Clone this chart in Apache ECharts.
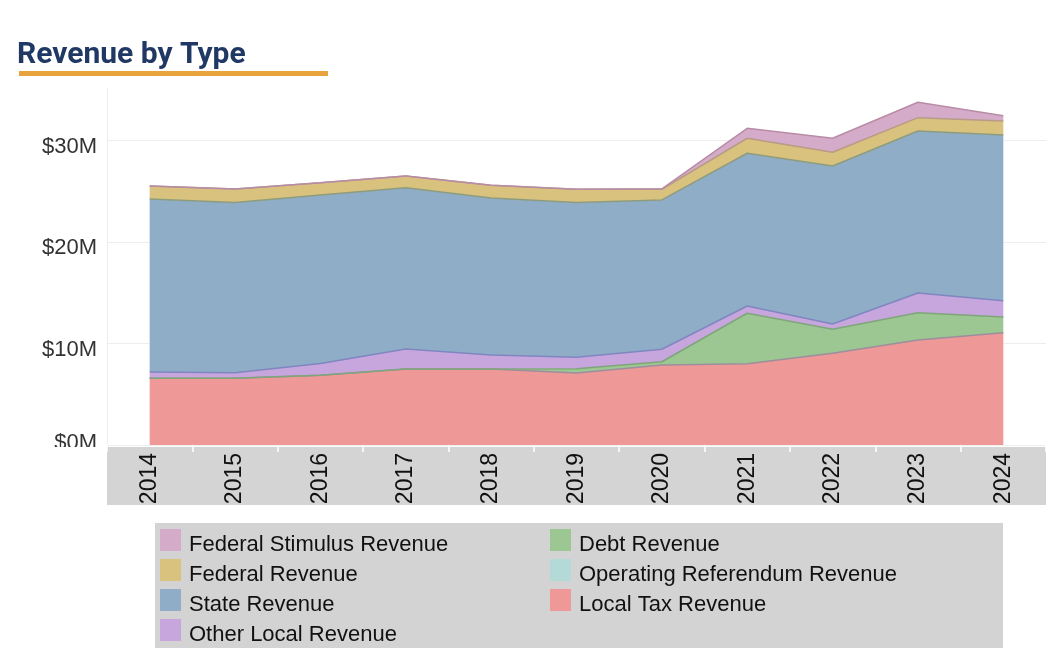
<!DOCTYPE html>
<html>
<head>
<meta charset="utf-8">
<script src="https://cdn.jsdelivr.net/npm/echarts@6/dist/echarts.min.js"></script>
<style>
html,body{margin:0;padding:0;background:#fff;}
#chart{width:1054px;height:666px;}
</style>
</head>
<body>
<div id="chart"></div>
<script>
// Data ($ millions)
const years = ['2014','2015','2016','2017','2018','2019','2020','2021','2022','2023','2024'];
const localTax = [6.57, 6.57, 6.87, 7.49, 7.49, 7.09, 7.88, 8.00, 9.03, 10.34, 11.06];
const operatingReferendum = [0, 0, 0, 0, 0, 0, 0, 0, 0, 0, 0];
const debt = [0, 0, 0, 0, 0, 0.41, 0.32, 4.98, 2.37, 2.69, 1.55];
const otherLocal = [0.62, 0.55, 1.16, 1.97, 1.38, 1.14, 1.23, 0.71, 0.52, 1.95, 1.61];
const state = [17.05, 16.78, 16.60, 15.89, 15.47, 15.26, 14.71, 15.05, 15.57, 15.96, 16.32];
const federal = [1.28, 1.32, 1.21, 1.15, 1.25, 1.29, 1.05, 1.48, 1.35, 1.31, 1.38];
const federalStimulus = [0, 0, 0, 0, 0, 0, 0.05, 0.98, 1.38, 1.51, 0.52];
const yTicks = [0, 10, 20, 30];

const legendCol1 = ['Federal Stimulus Revenue','Federal Revenue','State Revenue','Other Local Revenue'];
const legendCol2 = ['Debt Revenue','Operating Referendum Revenue','Local Tax Revenue'];

function areaSeries(name, data, fill, line, lineOpacity) {
  return {
    name: name, type: 'line', stack: 'rev', data: data,
    symbol: 'none', showSymbol: false,
    itemStyle: { color: fill },
    lineStyle: { color: line, width: 1.5, opacity: lineOpacity === undefined ? 1 : lineOpacity },
    areaStyle: { color: fill, opacity: 1 },
    emphasis: { disabled: true }
  };
}

const chart = echarts.init(document.getElementById('chart'));
const legendFont = { fontFamily: 'Liberation Sans', fontSize: 22, color: '#111' };
const legendBase = {
  orient: 'vertical', top: 524, padding: 0, itemWidth: 21, itemHeight: 22, itemGap: -2,
  icon: 'rect', selectedMode: false,
  itemStyle: { borderWidth: 0 },
  formatter: function (name) { return '{t|' + name + '}'; },
  textStyle: Object.assign({
    rich: { t: Object.assign({ padding: [10, 0, 0, 3], lineHeight: 22 }, legendFont) }
  }, legendFont)
};
const yLabelFont = { fontFamily: 'Liberation Sans', fontSize: 22, color: '#333' };
chart.setOption({
  animation: false,
  backgroundColor: '#ffffff',
  title: {
    text: 'Revenue by Type', left: 12, top: 35,
    textStyle: { fontFamily: 'Roboto', fontWeight: 'bold', fontSize: 30, color: '#1f3864' }
  },
  grid: { left: 107, right: 8, top: 88, bottom: 221, containLabel: false },
  legend: [
    Object.assign({}, legendBase, { left: 160, data: legendCol1 }),
    Object.assign({}, legendBase, { left: 550, data: legendCol2 })
  ],
  xAxis: {
    type: 'category', data: years, boundaryGap: true, z: 10,
    axisLine: { show: false },
    axisTick: { show: true, alignWithLabel: false, length: 7, lineStyle: { color: '#ffffff', width: 1.5 } },
    axisLabel: { rotate: 90, margin: 8, fontFamily: 'Liberation Sans', fontSize: 23, color: '#111' },
    splitLine: { show: false }
  },
  yAxis: {
    type: 'value', min: 0, max: 35.17, interval: 10,
    axisLine: { show: true, lineStyle: { color: '#eeeeee' } },
    axisTick: { show: false },
    axisLabel: {
      showMaxLabel: false, margin: 10,
      fontFamily: 'Liberation Sans', fontSize: 22, color: '#333',
      formatter: function (v) {
        if (yTicks.indexOf(v) < 0) return '';
        return (v === 0 ? '{z|' : '{a|') + '$' + v + 'M}';
      },
      rich: {
        a: Object.assign({ padding: [12, 0, 0, 0] }, yLabelFont),
        z: Object.assign({ padding: [0, 0, 4, 0] }, yLabelFont)
      }
    },
    splitLine: { show: true, showMaxLine: false, lineStyle: { color: '#eeeeee' } }
  },
  graphic: [
    { type: 'rect', z: 1, shape: { x: 19, y: 71, width: 309, height: 5 }, style: { fill: '#E8A33D' } },
    { type: 'rect', z: 1, shape: { x: 107, y: 447, width: 939, height: 58 }, style: { fill: '#D4D4D4' } },
    { type: 'rect', z: 100, shape: { x: 0, y: 447, width: 106, height: 30 }, style: { fill: '#ffffff' } },
    { type: 'rect', z: 1, shape: { x: 155, y: 523, width: 848, height: 125 }, style: { fill: '#D3D3D3' } }
  ],
  series: [
    areaSeries('Local Tax Revenue', localTax, '#EE9898', '#9C8E9C'),
    areaSeries('Operating Referendum Revenue', operatingReferendum, '#B3DAD7', '#B3DAD7', 0),
    areaSeries('Debt Revenue', debt, '#9CC792', '#7FA67A'),
    areaSeries('Other Local Revenue', otherLocal, '#C6A6DC', '#7F86C0'),
    areaSeries('State Revenue', state, '#8FADC7', '#8E9C7E'),
    areaSeries('Federal Revenue', federal, '#D9C27D', '#B79B86'),
    areaSeries('Federal Stimulus Revenue', federalStimulus, '#D5ABCA', '#B88CA6')
  ]
});
</script>
</body>
</html>
